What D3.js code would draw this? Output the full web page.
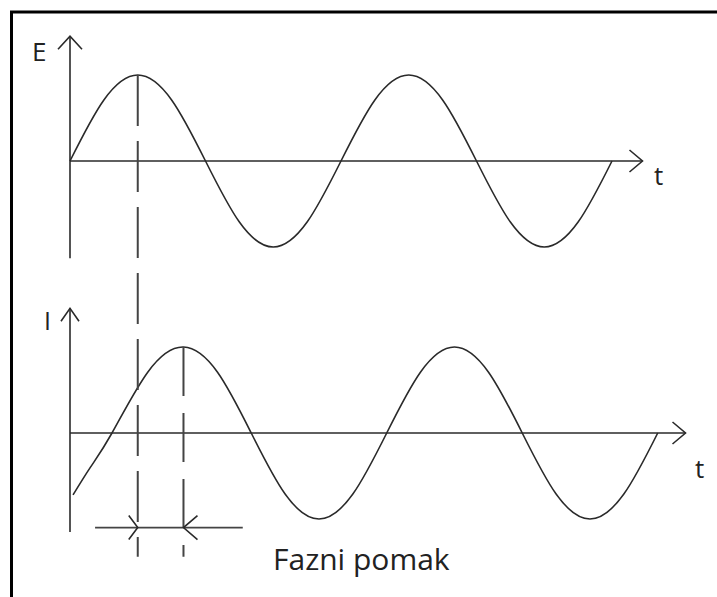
<!DOCTYPE html>
<html>
<head>
    <meta charset="utf-8">
    <script src="https://cdnjs.cloudflare.com/ajax/libs/d3/7.8.5/d3.min.js"></script>
    <style>
        html, body { margin: 0; padding: 0; overflow: hidden; background-color: #fff; }
        svg { display: block; }
        svg text { font-family: 'Open Sans', 'Noto Sans', sans-serif; fill: #222; }
    </style>
</head>
<body>
    <svg width="717" height="597"></svg>
    <script>
        // time in eighths of a period, signal in units of amplitude
        var eTimes  = [0, 1, 2, 3, 4, 5, 6, 7, 8, 9, 10, 11, 12, 13, 14, 15, 16];
        var eValues = [0, 0.71, 1, 0.71, 0, -0.71, -1, -0.71, 0, 0.71, 1, 0.71, 0, -0.71, -1, -0.71, 0];

        var iTimes  = [0.09, 0.6, 1.24, 2.3, 3.35, 4.35, 5.35, 6.35, 7.35, 8.35, 9.35, 10.35, 11.35, 12.35, 13.35, 14.35, 15.35, 16.35, 17.35];
        var iValues = [-0.72, -0.4, 0, 0.71, 1, 0.71, 0, -0.71, -1, -0.71, 0, 0.71, 1, 0.71, 0, -0.71, -1, -0.71, 0];

        var ePeak = 2, iPeak = 3.35;          // where the dashed lines fall
        var labels = {e: "E", i: "I", t: "t", shift: "Fazni pomak"};

        var svg = d3.select("svg");

        // frame: only the top and left sides show in the picture
        svg.append("path")
            .attr("d", "M11.5,597V12H717")
            .attr("fill", "none").attr("stroke", "#000").attr("stroke-width", 3);

        var x = d3.scaleLinear().domain([0, 8]).range([70, 341]);
        var yE = d3.scaleLinear().domain([-1, 1]).range([247, 75]);
        var yI = d3.scaleLinear().domain([-1, 1]).range([519, 347]);

        var ink = "#2a2a2a";

        function seg(x1, y1, x2, y2, w, col) {
            return svg.append("line")
                .attr("x1", x1).attr("y1", y1).attr("x2", x2).attr("y2", y2)
                .attr("stroke", col || ink).attr("stroke-width", w || 1.6);
        }
        function chevron(pts) {
            svg.append("path")
                .attr("d", d3.line()(pts))
                .attr("fill", "none").attr("stroke", ink).attr("stroke-width", 1.6);
        }

        function drawPanel(y, tEnd, vLow, head) {
            // vertical axis
            seg(x(0), y(vLow), x(0), y(1.45));
            chevron([[x(0) - head, y(1.45) + 13], [x(0), y(1.45)], [x(0) + head, y(1.45) + 13]]);
            // time axis
            seg(x(0), y(0), x(tEnd), y(0));
            chevron([[x(tEnd) - 13, y(0) - 11], [x(tEnd), y(0)], [x(tEnd) - 13, y(0) + 11]]);
        }

        drawPanel(yE, 16.9, -1.13, 12);
        drawPanel(yI, 18.17, -1.15, 9);

        var lineE = d3.line().x(function(d) { return x(d[0]); }).y(function(d) { return yE(d[1]); })
            .curve(d3.curveNatural);
        var lineI = d3.line().x(function(d) { return x(d[0]); }).y(function(d) { return yI(d[1]); })
            .curve(d3.curveNatural);

        svg.append("path")
            .attr("d", lineE(d3.zip(eTimes, eValues)))
            .attr("fill", "none").attr("stroke", ink).attr("stroke-width", 1.6);
        svg.append("path")
            .attr("d", lineI(d3.zip(iTimes, iValues)))
            .attr("fill", "none").attr("stroke", ink).attr("stroke-width", 1.6);

        // dashed guides from each peak
        seg(x(ePeak), yE(1), x(ePeak), yI(-1.44), 2, "#444").attr("stroke-dasharray", "51,15");
        seg(x(iPeak), yI(1), x(iPeak), yI(-1.44), 2, "#444").attr("stroke-dasharray", "49,17");

        // phase shift dimension line
        var dimY = yI(-1.1);
        seg(x(0.74), dimY, x(5.1), dimY, 1.8, "#444");
        chevron([[x(ePeak) - 9, dimY - 12], [x(ePeak), dimY], [x(ePeak) - 9, dimY + 12]]);
        chevron([[x(iPeak) + 14, dimY - 12], [x(iPeak), dimY], [x(iPeak) + 14, dimY + 12]]);

        // labels
        svg.append("text").attr("x", 32).attr("y", 61).style("font-size", "26px").text(labels.e);
        svg.append("text").attr("x", 44).attr("y", 330).style("font-size", "25px").text(labels.i);
        svg.append("text").attr("x", 654).attr("y", 185).style("font-size", "26px").text(labels.t);
        svg.append("text").attr("x", 695).attr("y", 478).style("font-size", "26px").text(labels.t);
        svg.append("text").attr("x", 273).attr("y", 570).style("font-size", "30px").text(labels.shift);
    </script>
</body>
</html>
